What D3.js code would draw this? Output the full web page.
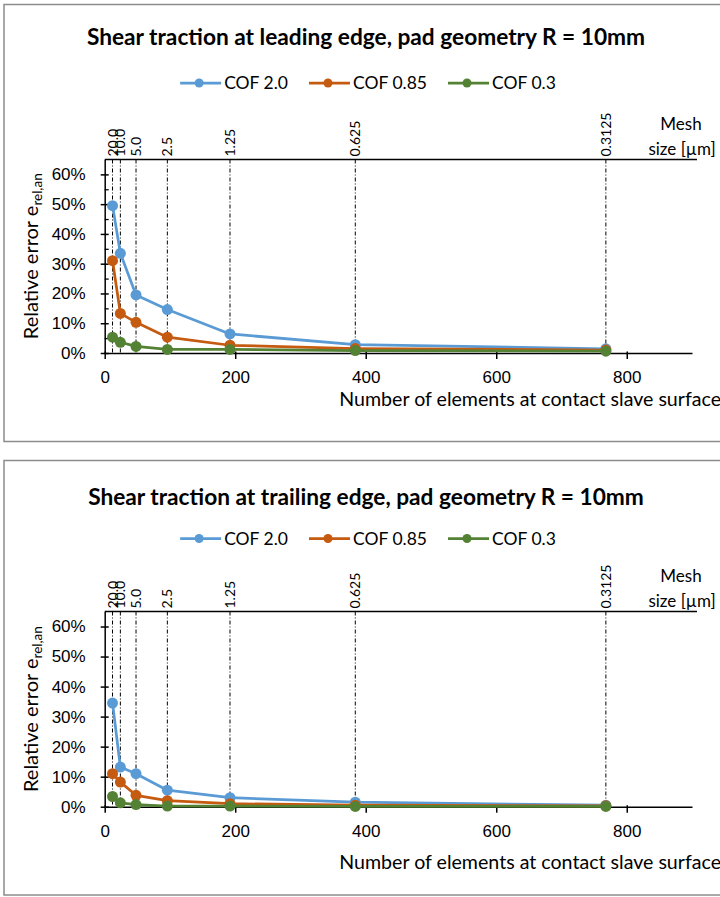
<!DOCTYPE html>
<html>
<head>
<meta charset="utf-8">
<script src="https://cdn.jsdelivr.net/npm/d3@7"></script>
<style>
  body { margin: 0; background: #fff; }
  svg { display: block; font-family: Lato, "Open Sans", sans-serif; }
</style>
</head>
<body>
<svg id="chart" width="720" height="897"></svg>
<script>
// Data
const elementCounts = [12, 24, 48, 96, 192, 384, 768];
const meshSizeLabels = ["20.0", "10.0", "5.0", "2.5", "1.25", "0.625", "0.3125"];
const seriesNames = ["COF 2.0", "COF 0.85", "COF 0.3"];
const seriesColors = ["#5b9bd5", "#c55a11", "#548235"];

const leadingCof20 = [0.495, 0.335, 0.195, 0.146, 0.064, 0.028, 0.014];
const leadingCof085 = [0.310, 0.133, 0.103, 0.053, 0.026, 0.015, 0.010];
const leadingCof03 = [0.053, 0.036, 0.022, 0.012, 0.012, 0.008, 0.006];

const trailingCof20 = [0.345, 0.132, 0.110, 0.055, 0.030, 0.015, 0.005];
const trailingCof085 = [0.110, 0.082, 0.038, 0.020, 0.010, 0.005, 0.003];
const trailingCof03 = [0.034, 0.013, 0.007, 0.002, 0.002, 0.001, 0.001];

const xTicks = [0, 200, 400, 600, 800];
const yTicks = [0, 0.1, 0.2, 0.3, 0.4, 0.5, 0.6];
const yMinorTicks = [0.05, 0.15, 0.25, 0.35, 0.45, 0.55];

const panels = [
  {
    title: "Shear traction at leading edge, pad geometry R = 10mm",
    series: [leadingCof20, leadingCof085, leadingCof03],
    minorTicks: true,
    box: { top: 4.5, bottom: 441.5 },
    titleY: 45, legendY: 83,
    plotTop: 159.5, plotBottom: 353,
    tickLabelOffset: 24, xTitleY: 406,
  },
  {
    title: "Shear traction at trailing edge, pad geometry R = 10mm",
    series: [trailingCof20, trailingCof085, trailingCof03],
    minorTicks: false,
    box: { top: 460.5, bottom: 895 },
    titleY: 505, legendY: 538.5,
    plotTop: 611.5, plotBottom: 806.7,
    tickLabelOffset: 24, xTitleY: 869,
  },
];

const svg = d3.select("#chart");
const x = d3.scaleLinear().domain([0, 900]).range([104.7, 692]);

function drawPanel(p) {
  const g = svg.append("g");
  const y = d3.scaleLinear().domain([0, 0.65]).range([p.plotBottom, p.plotTop]);

  // panel frame (runs off the right edge like the original crop)
  g.append("rect")
    .attr("x", 4).attr("y", p.box.top)
    .attr("width", 800).attr("height", p.box.bottom - p.box.top)
    .attr("fill", "none").attr("stroke", "#8c8c8c").attr("stroke-width", 1.5);

  g.append("text")
    .attr("x", 366).attr("y", p.titleY)
    .attr("text-anchor", "middle")
    .style("font-size", "22.7px").style("font-weight", "bold")
    .text(p.title);

  // legend, laid out left to right then centred
  const legend = g.append("g");
  let cursor = 0;
  seriesNames.forEach((name, i) => {
    const item = legend.append("g").attr("transform", `translate(${cursor},0)`);
    item.append("line")
      .attr("x1", 0).attr("x2", 41)
      .attr("stroke", seriesColors[i]).attr("stroke-width", 2.75);
    item.append("circle")
      .attr("cx", 19).attr("r", 4.5).attr("fill", seriesColors[i]);
    const t = item.append("text")
      .attr("x", 44).attr("dy", "0.35em")
      .style("font-size", "17.5px")
      .text(name);
    cursor += 44 + t.node().getComputedTextLength() + 21;
  });
  const legendWidth = cursor - 21;
  legend.attr("transform", `translate(${368 - legendWidth / 2},${p.legendY})`);

  // mesh size guides
  g.selectAll(".mesh-line")
    .data(elementCounts)
    .join("line")
    .attr("class", "mesh-line")
    .attr("x1", d => x(d)).attr("x2", d => x(d))
    .attr("y1", p.plotTop).attr("y2", p.plotBottom)
    .attr("stroke", "#000").attr("stroke-width", 1)
    .attr("stroke-dasharray", "4,2,1,2");

  g.selectAll(".mesh-label")
    .data(elementCounts)
    .join("text")
    .attr("class", "mesh-label")
    .attr("transform", d => `translate(${x(d) + 5},${p.plotTop - 3}) rotate(-90)`)
    .style("font-size", "14px")
    .text((d, i) => meshSizeLabels[i]);

  g.append("text")
    .attr("x", 681).attr("y", p.plotTop - 30)
    .attr("text-anchor", "middle")
    .style("font-size", "17px")
    .text("Mesh");
  g.append("text")
    .attr("x", 682).attr("y", p.plotTop - 5)
    .attr("text-anchor", "middle")
    .style("font-size", "17px")
    .text("size [µm]");

  // secondary (top) axis line
  g.append("line")
    .attr("x1", x(0)).attr("x2", x(900) + 5)
    .attr("y1", p.plotTop).attr("y2", p.plotTop)
    .attr("stroke", "#000").attr("stroke-width", 1.5);

  // y axis
  const yAxis = g.append("g")
    .attr("transform", `translate(${x(0)},0)`)
    .call(d3.axisLeft(y).tickValues(yTicks).tickFormat(d3.format(".0%"))
      .tickSizeInner(4).tickSizeOuter(0).tickPadding(15));
  yAxis.selectAll(".tick line").attr("x1", 4).attr("stroke-width", 1.5);
  yAxis.select(".domain").attr("stroke-width", 1.5);
  yAxis.selectAll("text").style("font-size", "17px").attr("fill", "#000");

  if (p.minorTicks) {
    const minor = g.append("g")
      .attr("transform", `translate(${x(0)},0)`)
      .call(d3.axisLeft(y).tickValues(yMinorTicks).tickFormat("").tickSize(-4).tickSizeOuter(0));
    minor.select(".domain").remove();
    minor.selectAll(".tick line").attr("stroke-width", 1.25);
  }

  // y axis title with subscript
  const yTitle = g.append("text")
    .attr("transform", `translate(38,${(p.plotTop + p.plotBottom) / 2}) rotate(-90)`)
    .attr("text-anchor", "middle")
    .style("font-size", "20px");
  yTitle.append("tspan").text("Relative error e");
  yTitle.append("tspan").attr("dy", 4).style("font-size", "13.5px").text("rel,an");

  // x axis
  const xAxis = g.append("g")
    .attr("transform", `translate(0,${p.plotBottom})`)
    .call(d3.axisBottom(x).tickValues(xTicks).tickSizeInner(6).tickSizeOuter(0));
  xAxis.selectAll(".tick line").attr("y1", -1.5).attr("stroke-width", 1.5);
  xAxis.select(".domain").attr("stroke-width", 1.5);
  xAxis.selectAll("text")
    .attr("y", p.tickLabelOffset).attr("dy", "0.35em")
    .style("font-size", "17px").attr("fill", "#000");

  g.append("text")
    .attr("x", 721).attr("y", p.xTitleY)
    .attr("text-anchor", "end")
    .style("font-size", "19.6px")
    .text("Number of elements at contact slave surface");

  // series
  const line = d3.line().x(d => x(d.n)).y(d => y(d.v));
  p.series.forEach((values, i) => {
    const pts = elementCounts.map((n, j) => ({ n, v: values[j] }));
    g.append("path")
      .datum(pts)
      .attr("d", line)
      .attr("fill", "none")
      .attr("stroke", seriesColors[i])
      .attr("stroke-width", 2.75)
      .attr("stroke-linejoin", "round");
    g.selectAll(null)
      .data(pts)
      .join("circle")
      .attr("cx", d => x(d.n)).attr("cy", d => y(d.v))
      .attr("r", 5.5)
      .attr("fill", seriesColors[i]);
  });
}

panels.forEach(drawPanel);
</script>
</body>
</html>
